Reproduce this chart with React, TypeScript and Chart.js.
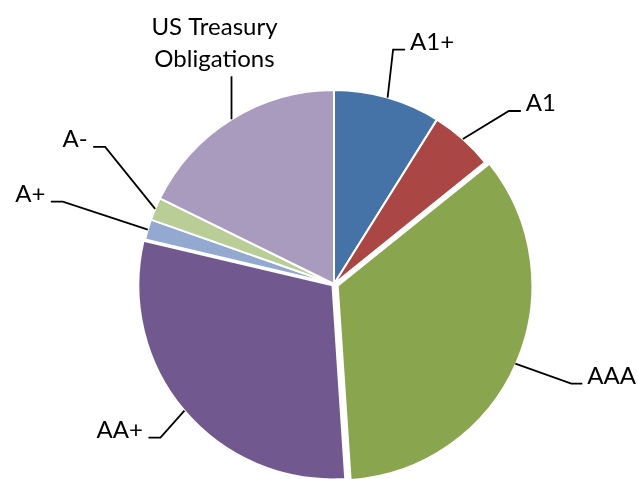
import React, { useEffect, useRef } from "react";
import { Chart, registerables } from "chart.js";

Chart.register(...registerables);

const categories = ["A1+", "A1", "AAA", "AA+", "A+", "A-", "US Treasury Obligations"];
const labelLines = [["A1+"], ["A1"], ["AAA"], ["AA+"], ["A+"], ["A-"], ["US Treasury", "Obligations"]];
const shares = [8.9, 5.3, 34.7, 29.7, 1.7, 1.9, 17.7];
const colors = ["#4572A7", "#AA4643", "#89A54E", "#71588F", "#93A9CF", "#B9CD96", "#A99BBD"];
const explode = [0, 0, 16, 8, 0, 0, 0];

// leader line layout (styling): elbow offset from the slice's attach point, tail length
const leaderLayout = [
  { dx: 5.5, dy: -48, tail: 12 },
  { dx: 46, dy: -28, tail: 12 },
  { dx: 56, dy: 20, tail: 11 },
  { dx: -24, dy: 27, tail: -12 },
  { dx: -85, dy: -28, tail: -12 },
  { dx: -50, dy: -62, tail: -12 },
  { dx: 0, dy: -43, tail: 0, above: true, textDx: -17 },
];

const FONT = "24px Lato";

const leaderPlugin = {
  id: "leaders",
  afterDatasetsDraw(chart: any) {
    const ctx = chart.ctx;
    const meta = chart.getDatasetMeta(0);
    ctx.save();
    ctx.strokeStyle = "#000";
    ctx.lineWidth = 1.8;
    ctx.fillStyle = "#000";
    ctx.font = FONT;
    meta.data.forEach((arc: any, i: number) => {
      const p = arc.getProps(["x", "y", "startAngle", "endAngle", "outerRadius"], true);
      const mid = (p.startAngle + p.endAngle) / 2;
      const off = (arc.options.offset || 0) / 4;
      const r = p.outerRadius + off;
      const ax = p.x + Math.cos(mid) * r;
      const ay = p.y + Math.sin(mid) * r;
      const L = leaderLayout[i];
      const ex = ax + L.dx;
      const ey = ay + L.dy;
      const tx = ex + L.tail;
      ctx.beginPath();
      ctx.moveTo(ax, ay);
      ctx.lineTo(ex, ey);
      if (L.tail) ctx.lineTo(tx, ey);
      ctx.stroke();
      const lines = labelLines[i];
      ctx.textBaseline = "alphabetic";
      if (L.above) {
        ctx.textAlign = "center";
        const cx = ax + (L.textDx || 0);
        const n = lines.length;
        lines.forEach((t: string, k: number) => {
          ctx.fillText(t, cx, ey - 9 - (n - 1 - k) * 32.5);
        });
      } else if (L.tail > 0) {
        ctx.textAlign = "left";
        ctx.fillText(lines[0], tx + 5, ey + 0.5);
      } else {
        ctx.textAlign = "right";
        ctx.fillText(lines[0], tx - 5.5, ey + 0.5);
      }
    });
    ctx.restore();
  },
};

export default function App() {
  const ref = useRef<HTMLCanvasElement | null>(null);
  useEffect(() => {
    if (!ref.current) return;
    const chart = new Chart(ref.current, {
      type: "pie",
      data: {
        labels: categories,
        datasets: [
          {
            data: shares,
            backgroundColor: colors,
            borderColor: "#FFFFFF",
            borderWidth: 2,
            offset: explode,
          },
        ],
      },
      options: {
        animation: false,
        responsive: true,
        maintainAspectRatio: false,
        radius: 194,
        layout: { padding: { left: 30, right: 0, top: 89, bottom: 0 } },
        plugins: { legend: { display: false }, tooltip: { enabled: false } },
        events: [],
      } as any,
      plugins: [leaderPlugin],
    });
    return () => chart.destroy();
  }, []);
  return (
    <div style={{ position: "absolute", left: 0, top: 0, width: 638, height: 479, background: "#fff" }}>
      <canvas ref={ref} />
    </div>
  );
}
